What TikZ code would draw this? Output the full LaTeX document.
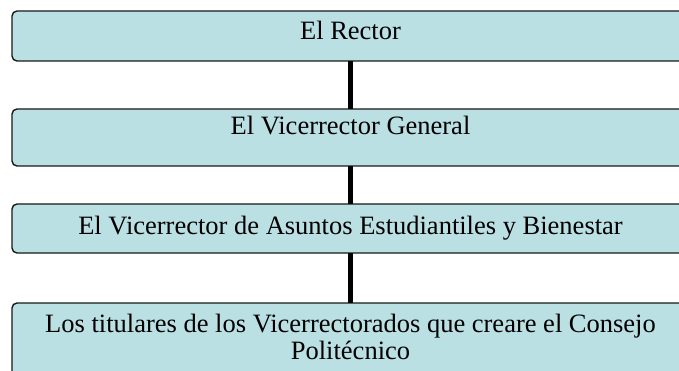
\documentclass[tikz,border=0pt]{standalone}
\usepackage{fontspec}
\setmainfont{Liberation Serif}
\definecolor{boxfill}{RGB}{187,224,228}
\begin{document}
\begin{tikzpicture}[x=1pt,y=-1pt,
  box/.style={draw=black!90, line width=1.4pt, fill=boxfill, rounded corners=5pt,
    minimum width=760pt, inner sep=0pt, outer sep=0pt},
  txt/.style={anchor=base, inner sep=0pt, font=\fontsize{26.5}{27.5}\selectfont, align=center},
  conn/.style={draw=black, line width=5pt}]
\useasboundingbox (0,0) rectangle (679,371);
\clip (0,0) rectangle (679,371);
\node[box, minimum height=50pt] (b1) at (392,36) {};
\node[box, minimum height=57pt] (b2) at (392,137.5) {};
\node[box, minimum height=49pt] (b3) at (392,228.5) {};
\node[box, minimum height=76pt] (b4) at (392,341) {};
\node[txt] (t1) at (350.5,39.5) {El Rector};
\node[txt] (t2) at (350.5,135) {El Vicerrector General};
\node[txt] (t3) at (350.5,234) {El Vicerrector de Asuntos Estudiantiles y Bienestar};
\node[txt, anchor=north] (t4) at (350.5,313.5) {Los titulares de los Vicerrectorados que creare el Consejo\\Politécnico};
\draw[conn] (t1.base |- b1.south) -- (t1.base |- b2.north);
\draw[conn] (t1.base |- b2.south) -- (t1.base |- b3.north);
\draw[conn] (t1.base |- b3.south) -- (t1.base |- b4.north);
\end{tikzpicture}
\end{document}
